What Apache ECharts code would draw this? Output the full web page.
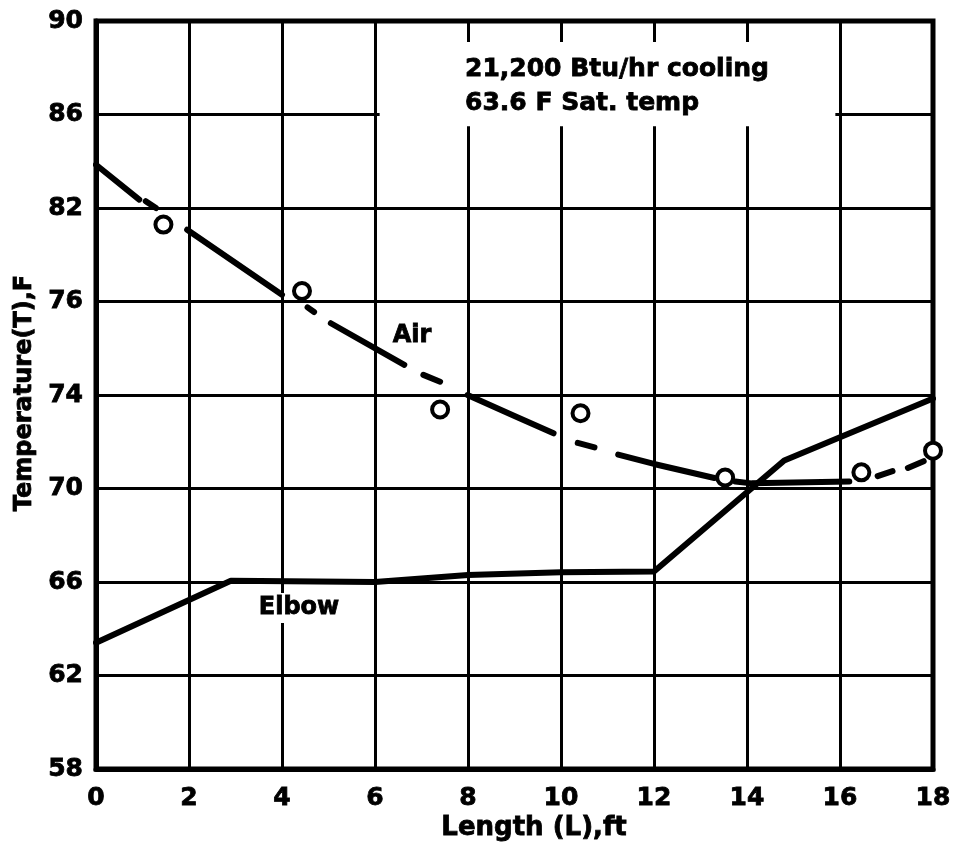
<!DOCTYPE html>
<html>
<head>
<meta charset="utf-8">
<script src="https://cdn.jsdelivr.net/npm/echarts@6/dist/echarts.min.js"></script>
<style>
html,body{margin:0;padding:0;background:#fff;}
#chart{width:954px;height:848px;}
</style>
</head>
<body>
<div id="chart"></div>
<script>
// ---- data ----
const yTickLabels = ["58","62","66","70","74","76","82","86","90"];
const airObserved = [[1.45,81.29],[4.43,78.45],[7.4,73.38],[10.42,73.22],[13.53,70.47],[16.46,70.69],[18.0,71.62]];
const airSeg1 = [[0,83.85],[0.93,82.36]];
const airSeg2 = [[1.07,82.29],[1.29,82.0]];
const airSeg3 = [[1.96,81.07],[4.0,78.29]];
const airSeg4 = [[4.55,77.75],[4.69,77.55]];
const airSeg5 = [[5.05,77.07],[6.63,75.29]];
const airSeg6 = [[7.04,74.86],[7.40,74.57]];
const airSeg7 = [[7.99,74.0],[9.0,73.1],[9.84,72.36]];
const airSeg8 = [[10.36,71.95],[10.72,71.76]];
const airSeg9 = [[11.23,71.45],[12.0,71.05],[13.3,70.45]];
const airSeg10 = [[13.75,70.3],[14.1,70.22],[16.2,70.3]];
const airSeg11 = [[16.81,70.53],[17.13,70.74]];
const airSeg12 = [[17.46,70.88],[17.8,71.17]];
const elbow = [[0,63.4],[2.9,66.05],[6.0,66.0],[8.0,66.3],[10.0,66.42],[12.0,66.45],[14.8,71.2],[18.0,73.85]];
const noteBox = [[6.1,89.1],[15.9,85.5]];
const noteLines = ["21,200 Btu/hr cooling","63.6 F Sat. temp"];

const airSegments = [airSeg1,airSeg2,airSeg3,airSeg4,airSeg5,airSeg6,airSeg7,airSeg8,airSeg9,airSeg10,airSeg11,airSeg12];

const FONT = 'DejaVu Sans';
const chart = echarts.init(document.getElementById('chart'), null, {renderer:'canvas'});

const lineSeries = (data) => ({
  type:'line', data:data, showSymbol:false, symbol:'none', silent:true, z:3,
  lineStyle:{color:'#000', width:6, cap:'round', join:'round'}, animation:false, clip:false
});

const series = [];
series.push({
  type:'line', data:[], silent:true, animation:false,
  markArea:{silent:true, itemStyle:{color:'#fff', opacity:1}, data:[[{coord:noteBox[0]},{coord:noteBox[1]}]]}
});
airSegments.forEach(s => series.push(lineSeries(s)));
series.push(lineSeries(elbow));
series.push({
  type:'scatter', data:airObserved, symbol:'circle', symbolSize:16, z:4, clip:false, animation:false,
  itemStyle:{color:'#fff', borderColor:'#000', borderWidth:4, opacity:1}
});

const heavy = {fill:'#000', stroke:'#000', lineWidth:0.8};

const option = {
  backgroundColor:'#fff',
  animation:false,
  grid:{left:96, right:21, top:21, bottom:79, show:true, borderColor:'#000', borderWidth:5, backgroundColor:'transparent'},
  xAxis:{
    type:'value', min:0, max:18, interval:2,
    axisLine:{show:true, lineStyle:{color:'#000', width:5}},
    axisTick:{show:false},
    splitLine:{show:true, lineStyle:{color:'#000', width:3}},
    axisLabel:{color:'#000', fontFamily:FONT, fontWeight:'bold', fontSize:25, margin:17, textBorderColor:'#000', textBorderWidth:0.8}
  },
  yAxis:{
    type:'value', min:58, max:90, interval:4,
    axisLine:{show:true, lineStyle:{color:'#000', width:5}},
    axisTick:{show:false},
    splitLine:{show:true, lineStyle:{color:'#000', width:3}},
    axisLabel:{color:'#000', fontFamily:FONT, fontWeight:'bold', fontSize:25, margin:13, textBorderColor:'#000', textBorderWidth:0.8,
      formatter:(v)=>yTickLabels[Math.round((v-58)/4)]}
  },
  graphic:[
    {type:'text', z:10, style:Object.assign({text:noteLines[0], x:465, y:69, font:'bold 25px "DejaVu Sans"', textAlign:'left', textVerticalAlign:'middle'}, heavy)},
    {type:'text', z:10, style:Object.assign({text:noteLines[1], x:465, y:103, font:'bold 25px "DejaVu Sans"', textAlign:'left', textVerticalAlign:'middle'}, heavy)},
    {type:'text', z:10, style:Object.assign({text:'Air', x:412, y:336, font:'bold 24px "DejaVu Sans"', textAlign:'center', textVerticalAlign:'middle'}, heavy)},
    {type:'text', z:10, style:Object.assign({text:'Elbow', x:299, y:608, font:'bold 24px "DejaVu Sans"', textAlign:'center', textVerticalAlign:'middle', backgroundColor:'#fff', padding:[3,3]}, heavy)},
    {type:'text', z:10, style:Object.assign({text:'Length (L),ft', x:534, y:828, font:'bold 26px "DejaVu Sans"', textAlign:'center', textVerticalAlign:'middle'}, heavy)},
    {type:'text', z:10, x:25, y:393, rotation:Math.PI/2, style:Object.assign({text:'Temperature(T),F', x:0, y:0, font:'bold 24px "DejaVu Sans"', textAlign:'center', textVerticalAlign:'middle'}, heavy)}
  ],
  series:series
};
chart.setOption(option);
</script>
</body>
</html>
